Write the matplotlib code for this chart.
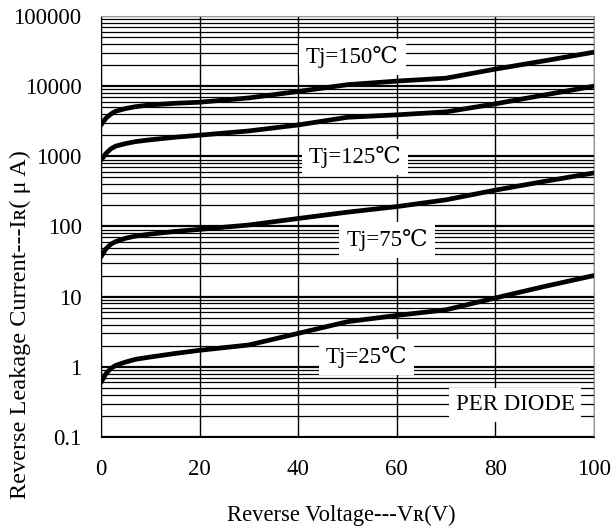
import numpy as np
import matplotlib
matplotlib.use('Agg')
import matplotlib.pyplot as plt
from matplotlib.ticker import LogLocator, NullFormatter

plt.rcParams['font.family'] = ['Liberation Serif', 'DejaVu Serif']

# data
voltage = [0, 1, 2, 3, 5, 7, 10, 15, 20, 30, 40, 50, 60, 70, 80, 90, 100]
ir_150 = [2800, 3500, 4000, 4400, 4800, 5100, 5400, 5700, 5900, 6800, 8400,
          10500, 11800, 13000, 17500, 23000, 30500]
ir_125 = [880, 1100, 1280, 1400, 1520, 1620, 1720, 1870, 2000, 2300, 2800,
          3600, 3900, 4300, 5600, 7500, 10000]
ir_75 = [37, 48, 56, 61, 68, 73, 78, 85, 91, 105, 130, 160, 192, 240, 330,
         440, 580]
ir_25 = [0.6, 0.8, 0.95, 1.05, 1.17, 1.28, 1.38, 1.55, 1.72, 2.05, 3.0, 4.4,
         5.4, 6.5, 9.6, 14, 20]

x_ticks = [0, 20, 40, 60, 80, 100]
y_ticks = [0.1, 1, 10, 100, 1000, 10000, 100000]
y_tick_labels = ['0.1', '1', '10', '100', '1000', '10000', '100000']

labels = ['Tj=150\u2103', 'Tj=125\u2103', 'Tj=75\u2103', 'Tj=25\u2103', 'PER DIODE']
label_pos = [(51, 26000), (51.5, 980), (58, 64), (53.8, 1.38), (84, 0.286)]

fig = plt.figure(figsize=(6.13, 5.29), dpi=100)
ax = fig.add_axes([0.1648, 0.1739, 0.8042, 0.7959])

ax.set_yscale('log')
ax.set_xlim(0, 100)
ax.set_ylim(0.1, 100000)

ax.set_xticks(x_ticks)
ax.set_yticks(y_ticks)
ax.set_yticklabels(y_tick_labels)
ax.yaxis.set_minor_locator(LogLocator(base=10, subs=np.arange(2, 10), numticks=20))
ax.yaxis.set_minor_formatter(NullFormatter())
ax.tick_params(which='both', length=0, labelsize=16.5)
ax.tick_params(axis='y', pad=14)
ax.tick_params(axis='x', pad=16)

ax.grid(True, which='major', axis='y', color='black', lw=1.6)
ax.grid(True, which='minor', axis='y', color='black', lw=0.9)
ax.grid(True, which='major', axis='x', color='black', lw=1.0)

for side in ['top', 'right']:
    ax.spines[side].set_color('#999999')
for side in ['left', 'bottom']:
    ax.spines[side].set_color('black')

for series in [ir_150, ir_125, ir_75, ir_25]:
    ax.plot(voltage, series, color='black', lw=3.4, solid_capstyle='round', zorder=4)

for text, (xv, yv) in zip(labels, label_pos):
    ax.text(xv, yv, text, ha='center', va='center', fontsize=16.5, zorder=3,
            bbox=dict(facecolor='white', edgecolor='none', pad=5))

ax.set_xlabel('Reverse Voltage---V\u0280(V)', fontsize=16.3)
ax.xaxis.set_label_coords(0.487, -0.162)
ax.set_ylabel('Reverse Leakage Current---I\u0280( \u03bc A)', fontsize=17.5)
ax.yaxis.set_label_coords(-0.142, 0.268)

fig.savefig('out.png', dpi=100)
